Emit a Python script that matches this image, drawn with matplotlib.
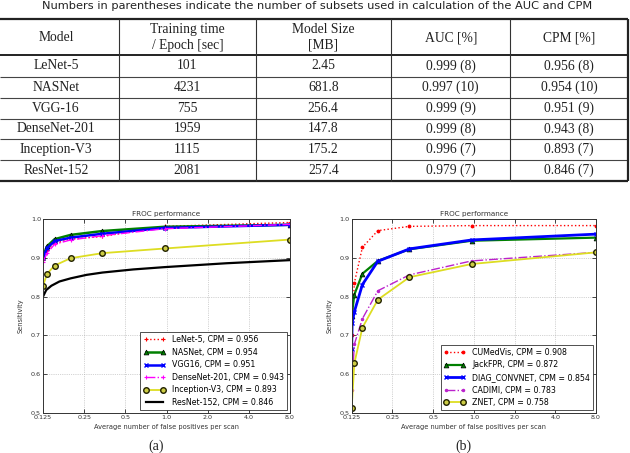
import matplotlib
matplotlib.use("Agg")
import matplotlib.pyplot as plt

# ---- table data ----
CAPTION = "Numbers in parentheses indicate the number of subsets used in calculation of the AUC and CPM"
HEADERS = ["Model", "Training time\n/ Epoch [sec]", "Model Size\n[MB]", "AUC [%]", "CPM [%]"]
MODELS = ["LeNet-5", "NASNet", "VGG-16", "DenseNet-201", "Inception-V3", "ResNet-152"]
TRAIN_TIME = ["101", "4231", "755", "1959", "1115", "2081"]
MODEL_SIZE = ["2.45", "681.8", "256.4", "147.8", "175.2", "257.4"]
AUC = ["0.999 (8)", "0.997 (10)", "0.999 (9)", "0.999 (8)", "0.996 (7)", "0.979 (7)"]
CPM = ["0.956 (8)", "0.954 (10)", "0.951 (9)", "0.943 (8)", "0.893 (7)", "0.846 (7)"]

# ---- FROC data (a) ----
FP_TICKS = [0.125, 0.25, 0.5, 1.0, 2.0, 4.0, 8.0]
FP_TICK_LABELS = ["0.125", "0.25", "0.5", "1.0", "2.0", "4.0", "8.0"]
FP_A = [0.125, 0.134, 0.152, 0.199, 0.340, 0.973, 8.0]
LENET5 = [0.895, 0.920, 0.937, 0.948, 0.955, 0.981, 0.991]
NASNET = [0.905, 0.930, 0.948, 0.959, 0.969, 0.980, 0.985]
VGG16 = [0.900, 0.925, 0.943, 0.952, 0.962, 0.977, 0.985]
DENSENET = [0.890, 0.912, 0.935, 0.946, 0.957, 0.975, 0.986]
INCEPTION = [0.828, 0.859, 0.880, 0.899, 0.912, 0.924, 0.947]
RESNET_FP = [0.125, 0.132, 0.144, 0.165, 0.199, 0.260, 0.340, 0.571, 0.972, 2.76, 8.0]
RESNET = [0.800, 0.817, 0.828, 0.839, 0.847, 0.856, 0.862, 0.870, 0.876, 0.886, 0.894]

# ---- FROC data (b) ----
FP_B = [0.125, 0.1307, 0.150, 0.195, 0.334, 0.963, 8.0]
CUMEDVIS = [0.700, 0.835, 0.927, 0.970, 0.981, 0.983, 0.983]
JACKFPR = [0.750, 0.805, 0.859, 0.892, 0.922, 0.944, 0.952]
DIAG_FP = [0.125, 0.126, 0.1307, 0.150, 0.195, 0.334, 0.963, 8.0]
DIAG = [0.665, 0.733, 0.761, 0.831, 0.891, 0.923, 0.946, 0.961]
CADIMI = [0.560, 0.677, 0.743, 0.815, 0.856, 0.892, 0.914]
ZNET = [0.512, 0.628, 0.720, 0.792, 0.850, 0.884, 0.914]

W, H = 630, 453
TEXT_SERIF = ["Liberation Serif", "DejaVu Serif"]


def draw_table(fig):
    tab = fig.add_axes([0, 0, 1, 1])
    tab.set_xlim(0, W)
    tab.set_ylim(H, 0)
    tab.axis("off")

    tab.text(317.5, 6.2, CAPTION, ha="center", va="center", fontsize=8.2,
             family="DejaVu Sans", color="#222222")

    col_x = [0, 119.3, 255.7, 391, 510.3, 628.3]
    row_y = [19, 55, 76.7, 97.7, 118.7, 139.3, 160, 180.7]

    tab.hlines(row_y[0], 0, col_x[-1], color="#222222", lw=1.6)
    tab.hlines(row_y[1], 0, col_x[-1], color="#222222", lw=1.4)
    tab.hlines(row_y[2:-1], 0, col_x[-1], color="#444444", lw=0.8)
    tab.hlines(row_y[-1], 0, col_x[-1], color="#222222", lw=1.6)
    tab.vlines(col_x[1:-1], row_y[0], row_y[-1], color="#333333", lw=0.8)
    tab.vlines(col_x[-1], row_y[0], row_y[-1], color="#222222", lw=1.6)

    centers = [56, 187.5, 323.3, 450.7, 569.3]
    for cx, head in zip(centers, HEADERS):
        tab.text(cx, 37.5, head, ha="center", va="center", fontsize=9.8,
                 family=TEXT_SERIF, color="#222222", linespacing=1.25)

    columns = [MODELS, TRAIN_TIME, MODEL_SIZE, AUC, CPM]
    for i in range(len(MODELS)):
        cy = (row_y[i + 1] + row_y[i + 2]) / 2
        for cx, col in zip(centers, columns):
            tab.text(cx, cy, col[i], ha="center", va="center", fontsize=9.8,
                     family=TEXT_SERIF, color="#222222")

    tab.text(156, 446, "(a)", ha="center", va="center", fontsize=10,
             family=TEXT_SERIF, color="#222222")
    tab.text(463, 446, "(b)", ha="center", va="center", fontsize=10,
             family=TEXT_SERIF, color="#222222")


def style_froc(ax):
    ax.set_xscale("log", base=2)
    ax.set_xlim(0.125, 8.0)
    ax.set_ylim(0.5, 1.0)
    ax.set_xticks(FP_TICKS)
    ax.set_xticklabels(FP_TICK_LABELS)
    ax.minorticks_off()
    ax.set_yticks([0.5, 0.6, 0.7, 0.8, 0.9, 1.0])
    ax.set_yticklabels(["0.5", "0.6", "0.7", "0.8", "0.9", "1.0"])
    ax.tick_params(direction="in", length=3, width=0.5, labelsize=4.6,
                   labelcolor="#333333", pad=1.5, top=True, right=True)
    ax.grid(True, color="#aaaaaa", linestyle=":", linewidth=0.5)
    for s in ax.spines.values():
        s.set_linewidth(0.7)
        s.set_color("#333333")
    ax.set_title("FROC performance", fontsize=5.2, color="#333333", pad=2)
    ax.set_xlabel("Average number of false positives per scan", fontsize=4.8,
                  color="#333333", labelpad=2.5)
    ax.set_ylabel("Sensitivity", fontsize=4.8, color="#333333", labelpad=5)


def add_legend(ax):
    leg = ax.legend(loc="lower right", fontsize=5.7, numpoints=2, fancybox=False,
                    framealpha=1, edgecolor="#333333", borderaxespad=0.35,
                    handlelength=2.8, labelspacing=0.45, borderpad=0.4)
    leg.get_frame().set_linewidth(0.6)


fig = plt.figure(figsize=(W / 100, H / 100), dpi=100)
draw_table(fig)

ax_a = fig.add_axes([43 / W, 1 - 413 / H, 247 / W, 194 / H])
ax_a.plot(FP_A, LENET5, color="red", linestyle=":", marker="+", ms=3.5, mew=0.8, lw=1.0,
          label="LeNet-5, CPM = 0.956")
ax_a.plot(FP_A, NASNET, color="green", linestyle="-", marker="^", ms=3.5, mfc="green",
          mec="black", mew=0.5, lw=1.8, label="NASNet, CPM = 0.954")
ax_a.plot(FP_A, VGG16, color="blue", linestyle="-", marker="x", ms=3.5, mew=1.0, lw=1.8,
          label="VGG16, CPM = 0.951")
ax_a.plot(FP_A, DENSENET, color="magenta", linestyle="-.", marker="+", ms=3.5, mew=0.8,
          lw=1.0, label="DenseNet-201, CPM = 0.943")
ax_a.plot(FP_A, INCEPTION, color="#dddd22", linestyle="-", marker="o", ms=4, mfc="#cccc44",
          mec="#222200", mew=1.0, lw=1.3, label="Inception-V3, CPM = 0.893")
ax_a.plot(RESNET_FP, RESNET, color="black", linestyle="-", lw=1.6,
          label="ResNet-152, CPM = 0.846")
style_froc(ax_a)
add_legend(ax_a)

ax_b = fig.add_axes([351.7 / W, 1 - 413 / H, 244.3 / W, 194 / H])
ax_b.plot(FP_B, CUMEDVIS, color="red", linestyle=":", marker=".", ms=3.5, lw=1.0,
          label="CUMedVis, CPM = 0.908")
ax_b.plot(FP_B, JACKFPR, color="green", linestyle="-", marker="^", ms=3.5, mfc="green",
          mec="black", mew=0.5, lw=1.6, label="JackFPR, CPM = 0.872")
ax_b.plot(DIAG_FP, DIAG, color="blue", linestyle="-", marker="x", ms=3.5, mew=1.0, lw=2.0,
          label="DIAG_CONVNET, CPM = 0.854")
ax_b.plot(FP_B, CADIMI, color="#bb22cc", linestyle="-.", marker=".", ms=3.0, lw=1.0,
          label="CADIMI, CPM = 0.783")
ax_b.plot(FP_B, ZNET, color="#dddd22", linestyle="-", marker="o", ms=4, mfc="#cccc44",
          mec="#222200", mew=1.0, lw=1.3, label="ZNET, CPM = 0.758")
style_froc(ax_b)
add_legend(ax_b)

fig.savefig("out.png", dpi=100)
